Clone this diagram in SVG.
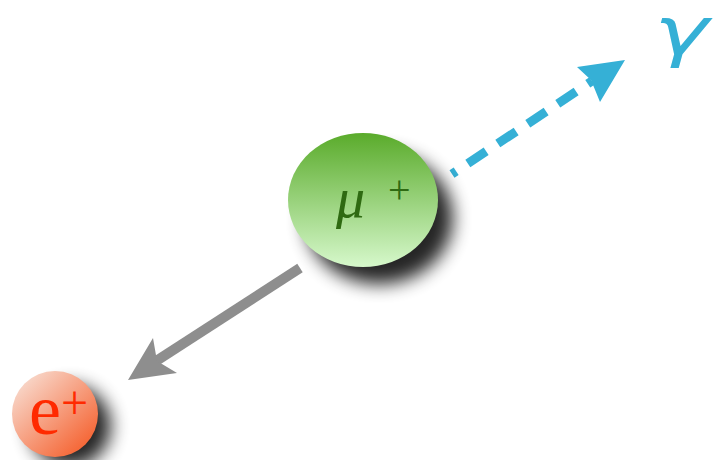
<svg xmlns="http://www.w3.org/2000/svg" width="714" height="460" viewBox="0 0 714 460">
<style>
.mu{font-family:"Liberation Serif",serif;font-style:italic;fill:#2f6a12}
.pl{font-family:"Liberation Serif",serif;font-style:normal}
.ep{font-family:"Liberation Serif",serif;fill:#ff2a00}
.ga{font-family:"DejaVu Sans",sans-serif;font-style:italic;fill:#35b0d6}
</style>
<defs>
<linearGradient id="gmu" x1="0" y1="0" x2="0" y2="1">
<stop offset="0" stop-color="#5aab2b"/>
<stop offset="1" stop-color="#d6f8cb"/>
</linearGradient>
<linearGradient id="gep" x1="0.15" y1="0.1" x2="0.9" y2="0.9">
<stop offset="0" stop-color="#f8d6c8"/>
<stop offset="1" stop-color="#f5612f"/>
</linearGradient>
<filter id="sh" x="-50%" y="-50%" width="200%" height="200%">
<feGaussianBlur stdDeviation="9"/>
</filter>
</defs>
<g id="connectors">
<g id="gray-arrow">
<line x1="300" y1="268" x2="150" y2="365" stroke="#8e8e8e" stroke-width="10"/>
<polygon points="128,380 153,338 157,361 177,373" fill="#8e8e8e"/>
</g>
<g id="blue-arrow">
<line x1="452" y1="174" x2="598" y2="77" stroke="#35b0d6" stroke-width="9" stroke-dasharray="5,14 22,14 22,14 22,14 22,14"/>
<polygon points="625,60 577,67 591,80 600,102" fill="#35b0d6"/>
</g>
</g>
<g id="muon">
<ellipse cx="379" cy="218" rx="74" ry="66" fill="#000" opacity="0.85" filter="url(#sh)"/>
<ellipse cx="363" cy="200" rx="75" ry="67" fill="url(#gmu)"/>
<text class="mu" x="336" y="217" font-size="58">μ</text>
<text class="mu pl" x="388" y="203" font-size="40">+</text>
</g>
<g id="positron">
<circle cx="70" cy="426" r="41" fill="#000" opacity="0.85" filter="url(#sh)"/>
<circle cx="55" cy="414" r="43" fill="url(#gep)"/>
<text class="ep" x="29" y="434" font-size="72">e</text>
<text class="ep" x="61" y="419" font-size="48">+</text>
</g>
<g id="photon-label">
<text class="ga" transform="translate(654,54) scale(1.4,1)" x="0" y="0" font-size="66">γ</text>
</g>
</svg>
